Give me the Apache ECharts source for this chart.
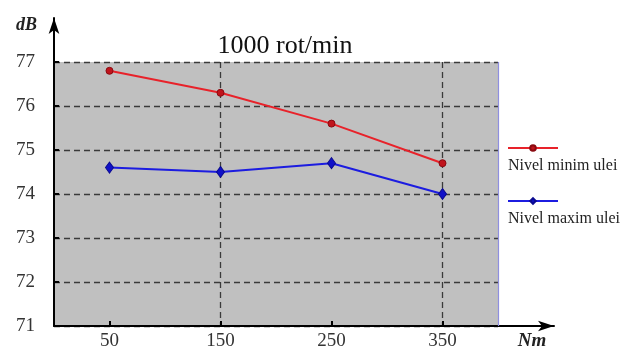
<!DOCTYPE html>
<html>
<head>
<meta charset="utf-8">
<script src="https://cdn.jsdelivr.net/npm/echarts@6/dist/echarts.min.js"></script>
<style>html,body{margin:0;padding:0;background:#fff}#c{width:624px;height:351px}</style>
</head>
<body>
<div id="c"></div>
<script>
const title = '1000 rot/min';
const xValues = [50, 150, 250, 350];
const minOil = [76.8, 76.3, 75.6, 74.7];
const maxOil = [74.6, 74.5, 74.7, 74.0];
const seriesNames = ['Nivel minim ulei', 'Nivel maxim ulei'];
const X_MIN = 0, X_MAX = 400, X_AXIS_END = 450;
const Y_MIN = 71, Y_MAX = 77, Y_AXIS_END = 78;

const FONT = '"Liberation Serif", "DejaVu Serif", serif';
const chart = echarts.init(document.getElementById('c'), null, {renderer: 'canvas'});

const gridLine = {type: [6, 4], color: '#3a3a3a', width: 1.3};

chart.setOption({
  animation: false,
  backgroundColor: '#fff',
  title: {
    text: title, left: 280, top: 28, textAlign: 'center',
    textStyle: {fontFamily: FONT, fontSize: 26, fontWeight: 'normal', color: '#111'}
  },
  legend: {
    orient: 'vertical', left: 502, top: 107, itemWidth: 50, itemHeight: 7, itemGap: -19,
    data: seriesNames,
    formatter: function (n) { return '\n' + n; },
    textStyle: {fontFamily: FONT, fontSize: 16, color: '#222', lineHeight: 36, padding: [0, 0, 0, -55]}
  },
  grid: [
    {left: 54, right: 126, top: 62, bottom: 23, show: true, backgroundColor: '#c0c0c0', borderWidth: 0},
    {left: 54, right: 70, top: 18, bottom: 23}
  ],
  xAxis: [
    {
      gridIndex: 0, type: 'value', min: X_MIN, max: X_MAX, interval: 50,
      axisLine: {show: false},
      axisTick: {show: true, inside: true, length: 5, customValues: xValues, lineStyle: {color: '#000', width: 2}},
      axisLabel: {customValues: xValues, margin: 6, fontFamily: FONT, fontSize: 19, color: '#333'},
      splitLine: {show: true, lineStyle: Object.assign({}, gridLine, {color: ['transparent', '#3a3a3a']})}
    },
    {
      gridIndex: 1, type: 'value', min: X_MIN, max: X_AXIS_END,
      axisLine: {show: true, lineStyle: {color: '#000', width: 2}, symbol: ['none', 'arrow'], symbolSize: [8, 16]},
      axisTick: {show: false}, axisLabel: {show: false}, splitLine: {show: false},
      name: 'Nm', nameLocation: 'end', nameGap: -22,
      nameTextStyle: {fontFamily: FONT, fontSize: 19, fontWeight: 'bold', fontStyle: 'italic', color: '#222',
        align: 'center', verticalAlign: 'top', padding: [6, 0, 0, 0]}
    }
  ],
  yAxis: [
    {
      gridIndex: 0, type: 'value', min: Y_MIN, max: Y_MAX, interval: 1,
      axisLine: {show: false},
      axisTick: {show: true, inside: true, length: 5, lineStyle: {color: '#000', width: 2}},
      axisLabel: {margin: 19, fontFamily: FONT, fontSize: 19, color: '#333'},
      splitLine: {show: true, lineStyle: gridLine}
    },
    {
      gridIndex: 1, type: 'value', min: Y_MIN, max: Y_AXIS_END,
      axisLine: {show: true, lineStyle: {color: '#000', width: 2}, symbol: ['none', 'arrow'], symbolSize: [8, 16]},
      axisTick: {show: false}, axisLabel: {show: false}, splitLine: {show: false},
      name: 'dB', nameLocation: 'end', nameGap: -7,
      nameTextStyle: {fontFamily: FONT, fontSize: 18, fontWeight: 'bold', fontStyle: 'italic', color: '#222',
        align: 'right', verticalAlign: 'middle', padding: [0, 17, 0, 0]}
    }
  ],
  series: [
    {
      name: seriesNames[0], type: 'line', xAxisIndex: 0, yAxisIndex: 0,
      data: xValues.map((x, i) => [x, minOil[i]]),
      symbol: 'circle', symbolSize: 7,
      lineStyle: {color: '#e8222a', width: 2},
      itemStyle: {color: '#c0141c', borderColor: '#8a0a10', borderWidth: 1},
      markLine: {
        silent: true, symbol: 'none', label: {show: false},
        lineStyle: {color: '#8f8fe0', width: 1.2, type: 'solid'},
        data: [{xAxis: X_MAX}]
      },
      z: 5
    },
    {
      name: seriesNames[1], type: 'line', xAxisIndex: 0, yAxisIndex: 0,
      data: xValues.map((x, i) => [x, maxOil[i]]),
      symbol: 'diamond', symbolSize: [8, 11],
      lineStyle: {color: '#1c1ce0', width: 2},
      itemStyle: {color: '#1010c8', borderColor: '#0a0a90', borderWidth: 1},
      z: 5
    }
  ]
});
</script>
</body>
</html>
